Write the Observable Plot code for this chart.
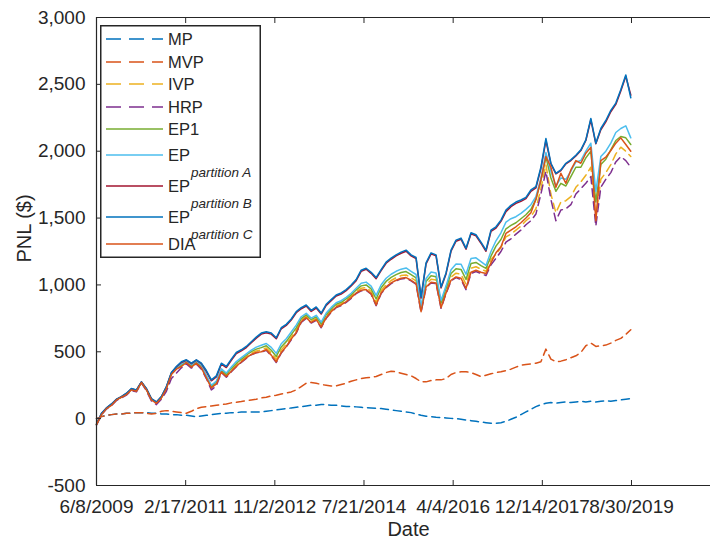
<!DOCTYPE html>
<html><head><meta charset="utf-8">
<script src="https://cdn.jsdelivr.net/npm/d3@7"></script>
<script src="https://cdn.jsdelivr.net/npm/@observablehq/plot@0.6"></script>
<style>
body{margin:0;background:#fff;}
#wrap{position:relative;width:710px;height:540px;font-family:"Liberation Sans",Arial,sans-serif;}
#legend{position:absolute;left:100px;top:25px;}
</style></head><body><div id="wrap"></div>
<script>
// trading-day index of each sample
const days = d3.range(0, 2997, 28);

const xTicks = [0, 500, 1000, 1500, 2000, 2500, 3000];
const xTickLabels = ["6/8/2009", "2/17/2011", "11/2/2012", "7/21/2014", "4/4/2016", "12/14/2017", "8/30/2019"];
const yTicks = [-500, 0, 500, 1000, 1500, 2000, 2500, 3000];
const yTickLabels = ["-500", "0", "500", "1,000", "1,500", "2,000", "2,500", "3,000"];

const seriesNames = ["MP", "MVP", "IVP", "HRP", "EP1", "EP partition A", "EP partition B", "EP partition C", "DIA"];
const legendMain = ["MP", "MVP", "IVP", "HRP", "EP1", "EP", "EP", "EP", "DIA"];
const legendSub = ["", "", "", "", "", "partition A", "partition B", "partition C", ""];
const seriesColors = ["#0072BD", "#D95319", "#EDB120", "#7E2F8E", "#77AC30", "#4DBEEE", "#A2142F", "#0072BD", "#D95319"];
const seriesDashed = [true, true, true, true, false, false, false, false, false];

const MP = [0,15,25,30,35,35,40,40,45,45, 45,40,40,35,35,30,30,25,25,20,
  15,20,25,30,35,40,40,45,45,50, 50,50,50,50,55,60,65,70,75,80,
  85,90,95,100,100,105,105,100,100,95, 90,90,88,85,82,80,78,75,70,65,
  60,55,50,45,35,25,18,15,10,8, 5,2,0,-5,-10,-15,-20,-25,-30,-35,
  -35,-30,-20,-5,10,30,50,70,90,105, 115,120,115,120,125,120,125,130,125,130,
  125,130,135,130,135,140,145,150];
const MVP = [0,15,25,30,35,35,40,40,45,45, 40,35,40,55,60,55,50,45,40,55,
  75,85,90,95,100,105,110,118,122,128, 135,140,145,155,160,170,175,185,192,200,
  215,240,265,270,265,255,250,245,245,255, 265,280,290,300,305,310,315,330,345,355,
  350,340,330,320,300,275,275,285,290,290, 300,330,345,350,350,345,330,315,325,335,
  345,350,360,370,385,400,405,410,415,425, 520,445,425,430,440,455,470,495,545,565,
  540,545,550,565,585,600,630,665];
const IVP = [-44,32,76,102,141,161,182,217,207,271, 217,142,117,157,228,333,374,395,424,390,
  420,385,311,236,266,356,322,364,400,434, 463,490,506,514,528,492,443,514,557,610,
  661,736,765,729,750,696,765,809,844,859, 884,915,950,975,981,951,870,957,1003,1033,
  1054,1070,1075,1054,1030,811,1003,1042,1036,846, 955,1058,1088,1080,1005,1125,1136,1118,1102,1190,
  1230,1280,1360,1380,1410,1440,1480,1510,1570,1720, 1900,1680,1540,1620,1630,1660,1730,1770,1820,1880,
  1500,1790,1840,1900,1980,2030,2000,1960];
const HRP = [-48,28,72,98,136,155,176,210,200,265, 208,132,105,145,205,300,340,380,410,378,
  408,370,300,215,245,345,310,350,388,420, 450,478,492,498,512,470,420,490,535,590,
  640,720,750,715,735,680,750,795,830,845, 870,900,935,955,960,930,845,935,980,1010,
  1030,1045,1050,1030,1005,795,980,1015,1010,825, 935,1030,1055,1040,965,1085,1100,1085,1070,1150,
  1200,1250,1320,1345,1380,1410,1450,1480,1530,1680, 1850,1640,1480,1560,1570,1600,1680,1720,1760,1810,
  1440,1730,1790,1840,1920,1960,1930,1880];
const EP1 = [-43,34,77,104,142,162,184,219,209,272, 219,144,119,159,231,336,378,402,428,396,
  425,392,317,243,273,364,331,375,413,445, 474,501,520,531,545,511,465,536,576,628,
  679,748,776,740,761,708,777,820,855,870, 895,926,962,993,1000,970,895,979,1026,1056,
  1077,1093,1100,1077,1053,824,1025,1068,1061,864, 973,1085,1121,1116,1041,1160,1168,1145,1124,1215,
  1290,1340,1420,1445,1465,1495,1525,1565,1640,1780, 1960,1800,1700,1760,1740,1810,1880,1880,1950,2000,
  1620,1900,1940,2010,2080,2110,2100,2050];
const EP_A = [-42,36,78,106,143,163,186,221,211,273, 221,146,121,161,234,339,382,410,432,403,
  430,400,324,250,280,372,341,386,427,456, 485,513,535,549,562,533,488,560,598,648,
  699,762,788,752,773,722,790,832,867,882, 907,938,975,1013,1021,991,922,1001,1050,1080,
  1102,1118,1127,1102,1078,839,1048,1097,1089,884, 993,1114,1156,1155,1080,1198,1203,1174,1146,1250,
  1330,1390,1470,1495,1510,1535,1565,1600,1660,1800, 1990,1850,1740,1800,1790,1850,1920,1930,2000,2060,
  1700,1960,2000,2060,2140,2170,2190,2100];
const EP_B = [-42,38,79,108,144,164,188,223,213,274, 223,148,123,163,237,342,387,420,437,411,
  437,411,352,283,312,407,382,437,487,507, 532,567,602,632,642,632,597,672,697,737,
  792,822,842,802,827,782,847,882,917,932, 957,992,1032,1102,1117,1087,1047,1107,1162,1192,
  1217,1237,1252,1217,1197,902,1157,1232,1217,977, 1082,1252,1327,1342,1267,1382,1367,1312,1252,1400,
  1425,1475,1548,1585,1610,1625,1645,1700,1725,1870, 2080,1905,1830,1855,1905,1930,1965,2005,2080,2235,
  2055,2160,2220,2295,2350,2450,2560,2420];
const EP_C = [-40,40,80,110,145,165,190,225,215,275, 225,150,125,165,240,345,390,425,440,415,
  440,415,360,290,320,415,390,445,495,515, 540,575,610,640,650,640,605,680,705,745,
  800,830,850,810,835,790,855,890,925,940, 965,1000,1040,1110,1125,1095,1055,1115,1170,1200,
  1225,1245,1260,1225,1205,910,1165,1240,1225,985, 1090,1260,1335,1350,1275,1390,1375,1320,1260,1410,
  1435,1485,1560,1595,1620,1635,1655,1710,1735,1880, 2095,1910,1835,1860,1910,1935,1970,2010,2085,2245,
  2060,2170,2230,2305,2360,2460,2570,2400];
const DIA = [-45,30,75,100,140,160,180,215,205,270, 215,140,115,155,225,330,370,390,420,385,
  415,380,305,230,260,350,315,355,390,425, 455,480,495,500,515,475,425,495,540,595,
  645,725,755,720,740,685,755,800,835,850, 875,905,940,960,965,935,850,940,985,1015,
  1035,1050,1055,1035,1010,800,985,1020,1015,830, 940,1035,1060,1050,975,1095,1110,1095,1085,1165,
  1240,1285,1385,1410,1435,1465,1500,1540,1640,1785, 1960,1880,1730,1835,1760,1860,1930,1910,1985,2030,
  1480,1930,1955,2005,2060,2100,2050,2000];

const seriesValues = [MP, MVP, IVP, HRP, EP1, EP_A, EP_B, EP_C, DIA];

const ink = "#262626";
const lineMarks = seriesValues.map((vals, s) =>
  Plot.line(vals.map((v, i) => ({day: days[i], pnl: v})), {
    x: "day", y: "pnl",
    stroke: seriesColors[s], strokeWidth: 1.5,
    strokeDasharray: seriesDashed[s] ? "8,5" : null
  })
);

const chart = Plot.plot({
  width: 710, height: 540,
  marginLeft: 96, marginRight: 0, marginTop: 17, marginBottom: 55,
  x: {domain: [0, 3443]},
  y: {domain: [-500, 3000]},
  style: {fontFamily: '"Liberation Sans", Arial, sans-serif', fontSize: "19px", color: ink, background: "#fff"},
  marks: [
    ...lineMarks,
    Plot.ruleY([-500, 3000], {stroke: ink, strokeWidth: 1.2}),
    Plot.ruleX([0], {stroke: ink, strokeWidth: 1.2}),
    Plot.axisY(yTicks, {anchor: "left", tickSize: -5, tickPadding: 16, stroke: ink, fill: ink,
      tickFormat: d => yTickLabels[yTicks.indexOf(d)], label: null}),
    Plot.axisX(xTicks, {anchor: "bottom", tickSize: -5, tickPadding: 19, stroke: ink, fill: ink,
      tickFormat: d => xTickLabels[xTicks.indexOf(d)], label: null}),
    Plot.axisX(xTicks, {anchor: "top", tickSize: -5, stroke: ink, tickFormat: () => "", label: null}),
    Plot.text(["Date"], {frameAnchor: "bottom", textAnchor: "middle", lineAnchor: "middle", dy: 44, dx: 5, fontSize: 20, fill: ink}),
    Plot.text(["PNL ($)"], {frameAnchor: "left", textAnchor: "middle", lineAnchor: "middle", rotate: -90, dx: -72, dy: -23, fontSize: 20, fill: ink})
  ]
});

const wrap = document.getElementById("wrap");
wrap.appendChild(chart);

// legend overlay (inside the axes, top-left)
const rowY = [14, 37, 59, 82, 104, 130, 161, 192, 219];
const lg = d3.create("svg").attr("id", "legend").attr("width", 161).attr("height", 233)
  .style("font-family", '"Liberation Sans", Arial, sans-serif');
lg.append("rect").attr("x", 0.75).attr("y", 0.75).attr("width", 159.5).attr("height", 231.5)
  .attr("fill", "#fff").attr("stroke", ink).attr("stroke-width", 1.5);
seriesNames.forEach((name, s) => {
  const y = rowY[s];
  const g = lg.append("g");
  g.append("line").attr("x1", 6).attr("x2", 63).attr("y1", y).attr("y2", y)
    .attr("stroke", seriesColors[s]).attr("stroke-width", 1.3)
    .attr("stroke-dasharray", seriesDashed[s] ? "15,8" : null);
  g.append("text").attr("x", 68).attr("y", y).attr("dy", "0.36em")
    .attr("font-size", 16.5).attr("fill", ink).text(legendMain[s]);
  if (legendSub[s]) {
    g.append("text").attr("x", 91).attr("y", y + 22).attr("font-size", 13.5)
      .attr("font-style", "italic").attr("fill", ink).text(legendSub[s]);
  }
});
wrap.appendChild(lg.node());
</script></body></html>
